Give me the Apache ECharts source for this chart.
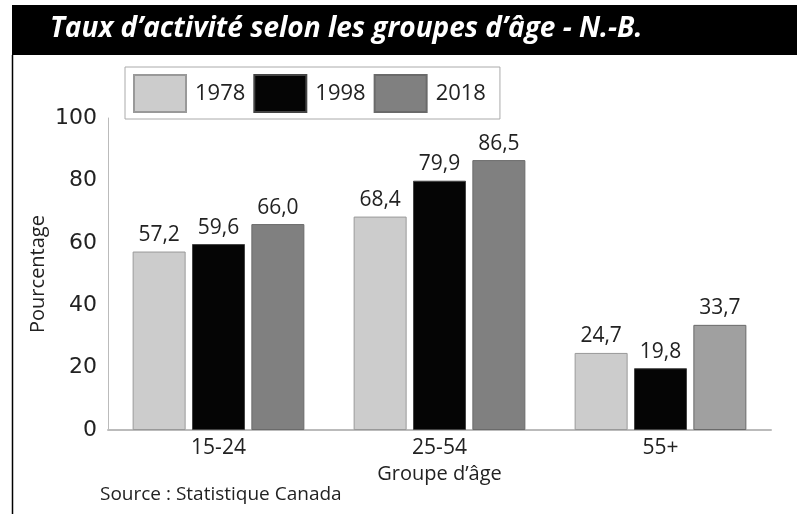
<!DOCTYPE html>
<html>
<head>
<meta charset="utf-8">
<script src="https://cdn.jsdelivr.net/npm/echarts@6/dist/echarts.min.js"></script>
<style>
  html, body { margin: 0; padding: 0; background: #fff; }
  #chart { width: 797px; height: 514px; }
</style>
</head>
<body>
<div id="chart"></div>
<script>
const categories = ['15-24', '25-54', '55+'];
const years = ['1978', '1998', '2018'];
const values1978 = [57.2, 68.4, 24.7];
const values1998 = [59.6, 79.9, 19.8];
const values2018 = [66.0, 86.5, 33.7];
const yTicks = [0, 20, 40, 60, 80, 100];

const FONT = '"Open Sans", sans-serif';
const fmt = v => v.toFixed(1).replace('.', ',');

function barSeries(name, data, color, border, lastColor) {
  return {
    name: name,
    type: 'bar',
    barWidth: 53,
    barGap: '12%',
    itemStyle: { color: color, borderColor: border, borderWidth: 1 },
    data: data.map((v, i) =>
      (lastColor && i === data.length - 1) ? { value: v, itemStyle: { color: lastColor } } : v),
    label: {
      show: true,
      position: 'top',
      distance: 6,
      fontFamily: FONT,
      fontSize: 21,
      color: '#222',
      formatter: p => fmt(p.value)
    }
  };
}

const chart = echarts.init(document.getElementById('chart'));
chart.setOption({
  animation: false,
  backgroundColor: '#fff',
  graphic: [
    { type: 'rect', shape: { x: 12, y: 5, width: 785, height: 50 }, style: { fill: '#000' } },
    { type: 'line', shape: { x1: 12.5, y1: 55, x2: 12.5, y2: 514 }, style: { stroke: '#000', lineWidth: 1.5 } },
    {
      type: 'text', left: 50, top: 15,
      style: {
        text: 'Taux d\u2019activité selon les groupes d\u2019âge - N.-B.',
        fill: '#fff', fontFamily: FONT, fontSize: 28, fontWeight: 'bold', fontStyle: 'italic'
      }
    },
    {
      type: 'text', left: 100, top: 485,
      style: { text: 'Source : Statistique Canada', fill: '#222', fontFamily: FONT, fontSize: 19 }
    }
  ],
  legend: {
    left: 125, top: 67,
    orient: 'horizontal',
    data: years,
    itemWidth: 52, itemHeight: 37, itemGap: 8,
    padding: [7, 14, 6, 8],
    borderColor: '#aaa', borderWidth: 1,
    icon: 'rect',
    textStyle: { fontFamily: FONT, fontSize: 22, color: '#222', padding: [0, 0, 0, 4] }
  },
  grid: { left: 108, right: 26, top: 118, bottom: 84 },
  xAxis: {
    type: 'category',
    data: categories,
    axisTick: { show: false },
    axisLine: { lineStyle: { color: '#bbb', width: 2 } },
    axisLabel: { fontFamily: FONT, fontSize: 21, color: '#222', margin: 8 },
    name: 'Groupe d\u2019âge',
    nameLocation: 'middle',
    nameGap: 32,
    nameTextStyle: { fontFamily: FONT, fontSize: 20, color: '#222' }
  },
  yAxis: {
    type: 'value',
    min: yTicks[0], max: yTicks[yTicks.length - 1], interval: 20,
    splitLine: { show: false },
    axisTick: { show: false },
    axisLine: { show: true, lineStyle: { color: '#bbb', width: 1 } },
    axisLabel: { fontFamily: '"DejaVu Sans", sans-serif', fontSize: 22, color: '#222', margin: 11 },
    name: 'Pourcentage',
    nameLocation: 'middle',
    nameGap: 60,
    nameRotate: 90,
    nameMoveOverlap: false,
    nameTextStyle: { fontFamily: FONT, fontSize: 20, color: '#222' }
  },
  series: [
    barSeries(years[0], values1978, '#cccccc', '#999'),
    barSeries(years[1], values1998, '#050505', '#444'),
    barSeries(years[2], values2018, '#808080', '#6a6a6a', '#a0a0a0')
  ]
});
</script>
</body>
</html>
